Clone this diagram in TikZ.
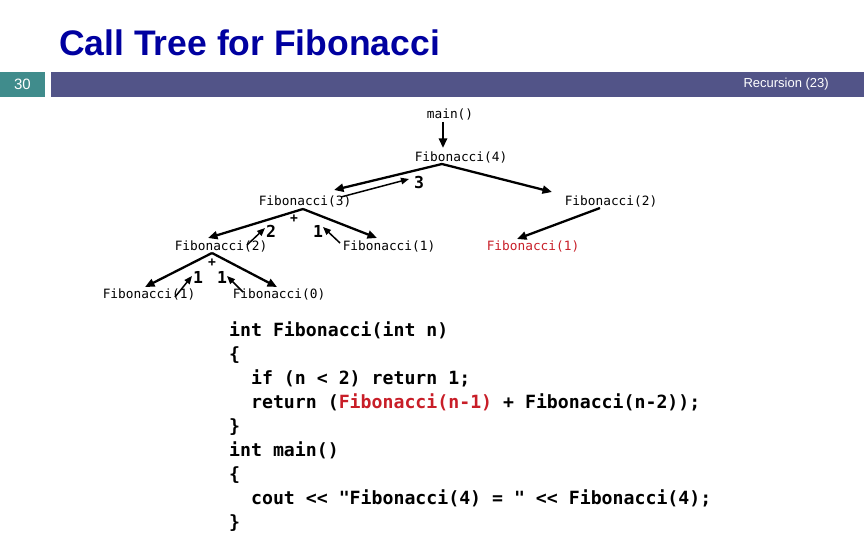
\documentclass[tikz,border=0pt]{standalone}
\usepackage{fontspec}
\setmainfont{Liberation Sans}
\newfontfamily\monofont{DejaVu Sans Mono}
\usetikzlibrary{arrows.meta}
\definecolor{titleblue}{RGB}{0,0,160}
\definecolor{barteal}{RGB}{64,140,140}
\definecolor{barpurple}{RGB}{82,84,136}
\definecolor{codered}{RGB}{200,30,40}
\tikzset{
  treenode/.style={inner sep=0pt, font=\monofont\fontsize{12.8}{14}\selectfont},
  numlabel/.style={inner sep=0pt, font=\monofont\bfseries\fontsize{16.5}{18}\selectfont},
  codeline/.style={inner sep=0pt, anchor=base west, font=\monofont\bfseries\fontsize{18.2}{24}\selectfont},
  callarrow/.style={line width=2.3pt, -{Triangle[length=9.5pt,width=8pt]}},
  retarrow/.style={line width=1.5pt, -{Triangle[length=8pt,width=6.5pt]}}
}
\begin{document}
\begin{tikzpicture}[x=1pt,y=-1pt]
\useasboundingbox (0,0) rectangle (864,540);
% title and bar
\node[inner sep=0pt, anchor=west, text=titleblue, font=\bfseries\fontsize{35.5}{40}\selectfont] (title) at (59,43) {Call Tree for Fibonacci};
\fill[barteal] (0,72) rectangle (45,97);
\fill[barpurple] (51,72) rectangle (864,97);
\node[inner sep=0pt, text=white, font=\fontsize{15}{17}\selectfont] (pagenum) at (22.5,84.5) {30};
\node[inner sep=0pt, anchor=east, text=white, font=\fontsize{13}{15}\selectfont] (section) at (829,84.5) {Recursion (23)};
% tree nodes
\node[treenode] (main) at (450,114) {main()};
\node[treenode] (f4) at (461,157) {Fibonacci(4)};
\node[treenode] (f3) at (305,201) {Fibonacci(3)};
\node[treenode] (f2r) at (611,201) {Fibonacci(2)};
\node[treenode] (f2l) at (221,246) {Fibonacci(2)};
\node[treenode] (f1m) at (389,246) {Fibonacci(1)};
\node[treenode, text=codered] (f1r) at (533,246) {Fibonacci(1)};
\node[treenode] (f1l) at (149,294) {Fibonacci(1)};
\node[treenode] (f0) at (279,294) {Fibonacci(0)};
% labels
\node[numlabel] (n3) at (419,182) {3};
\node[numlabel, font=\monofont\bfseries\fontsize{13}{15}\selectfont] (plus1) at (294,219) {+};
\node[numlabel] (n2) at (271,231) {2};
\node[numlabel] (n1a) at (318,231) {1};
\node[numlabel, font=\monofont\bfseries\fontsize{13}{15}\selectfont] (plus2) at (212,263) {+};
\node[numlabel] (n1b) at (198,277) {1};
\node[numlabel] (n1c) at (222,277) {1};
% arrow coordinates
\coordinate (mainb) at (443,122);
\coordinate (f4top) at (443,148);
\coordinate (f4b) at (442,164);
\coordinate (f3in) at (334,190);
\coordinate (f2rin) at (552,192);
\coordinate (f3b) at (303,209);
\coordinate (f2lin) at (208,238);
\coordinate (f1min) at (377,238);
\coordinate (f2lb) at (212,253);
\coordinate (f1lin) at (145,287);
\coordinate (f0in) at (277,287);
\coordinate (f2rb) at (600,208);
\coordinate (f1rin) at (517,239);
\coordinate (r3s) at (341,197);
\coordinate (r3e) at (409,179);
\coordinate (r2s) at (247,245);
\coordinate (r2e) at (265,228);
\coordinate (r1as) at (340,243);
\coordinate (r1ae) at (323,227);
\coordinate (r1bs) at (175,297);
\coordinate (r1be) at (192,276);
\coordinate (r1cs) at (243,292);
\coordinate (r1ce) at (227,276);
% call arrows
\draw[callarrow] (mainb) -- (f4top);
\draw[callarrow] (f4b) -- (f3in);
\draw[callarrow] (f4b) -- (f2rin);
\draw[callarrow] (f3b) -- (f2lin);
\draw[callarrow] (f3b) -- (f1min);
\draw[callarrow] (f2lb) -- (f1lin);
\draw[callarrow] (f2lb) -- (f0in);
\draw[callarrow] (f2rb) -- (f1rin);
% return arrows
\draw[retarrow] (r3s) -- (r3e);
\draw[retarrow] (r2s) -- (r2e);
\draw[retarrow] (r1as) -- (r1ae);
\draw[retarrow] (r1bs) -- (r1be);
\draw[retarrow] (r1cs) -- (r1ce);
% code
\node[codeline] (c1) at (229,336) {int Fibonacci(int n)};
\node[codeline] (c2) at (229,360) {\{};
\node[codeline] (c3) at (229,384) {\hphantom{xx}if (n < 2) return 1;};
\node[codeline] (c4) at (229,408) {\hphantom{xx}return (\textcolor{codered}{Fibonacci(n-1)} + Fibonacci(n-2));};
\node[codeline] (c5) at (229,432) {\}};
\node[codeline] (c6) at (229,456) {int main()};
\node[codeline] (c7) at (229,480) {\{};
\node[codeline] (c8) at (229,504) {\hphantom{xx}cout << "Fibonacci(4) = " << Fibonacci(4);};
\node[codeline] (c9) at (229,528) {\}};
\end{tikzpicture}
\end{document}
